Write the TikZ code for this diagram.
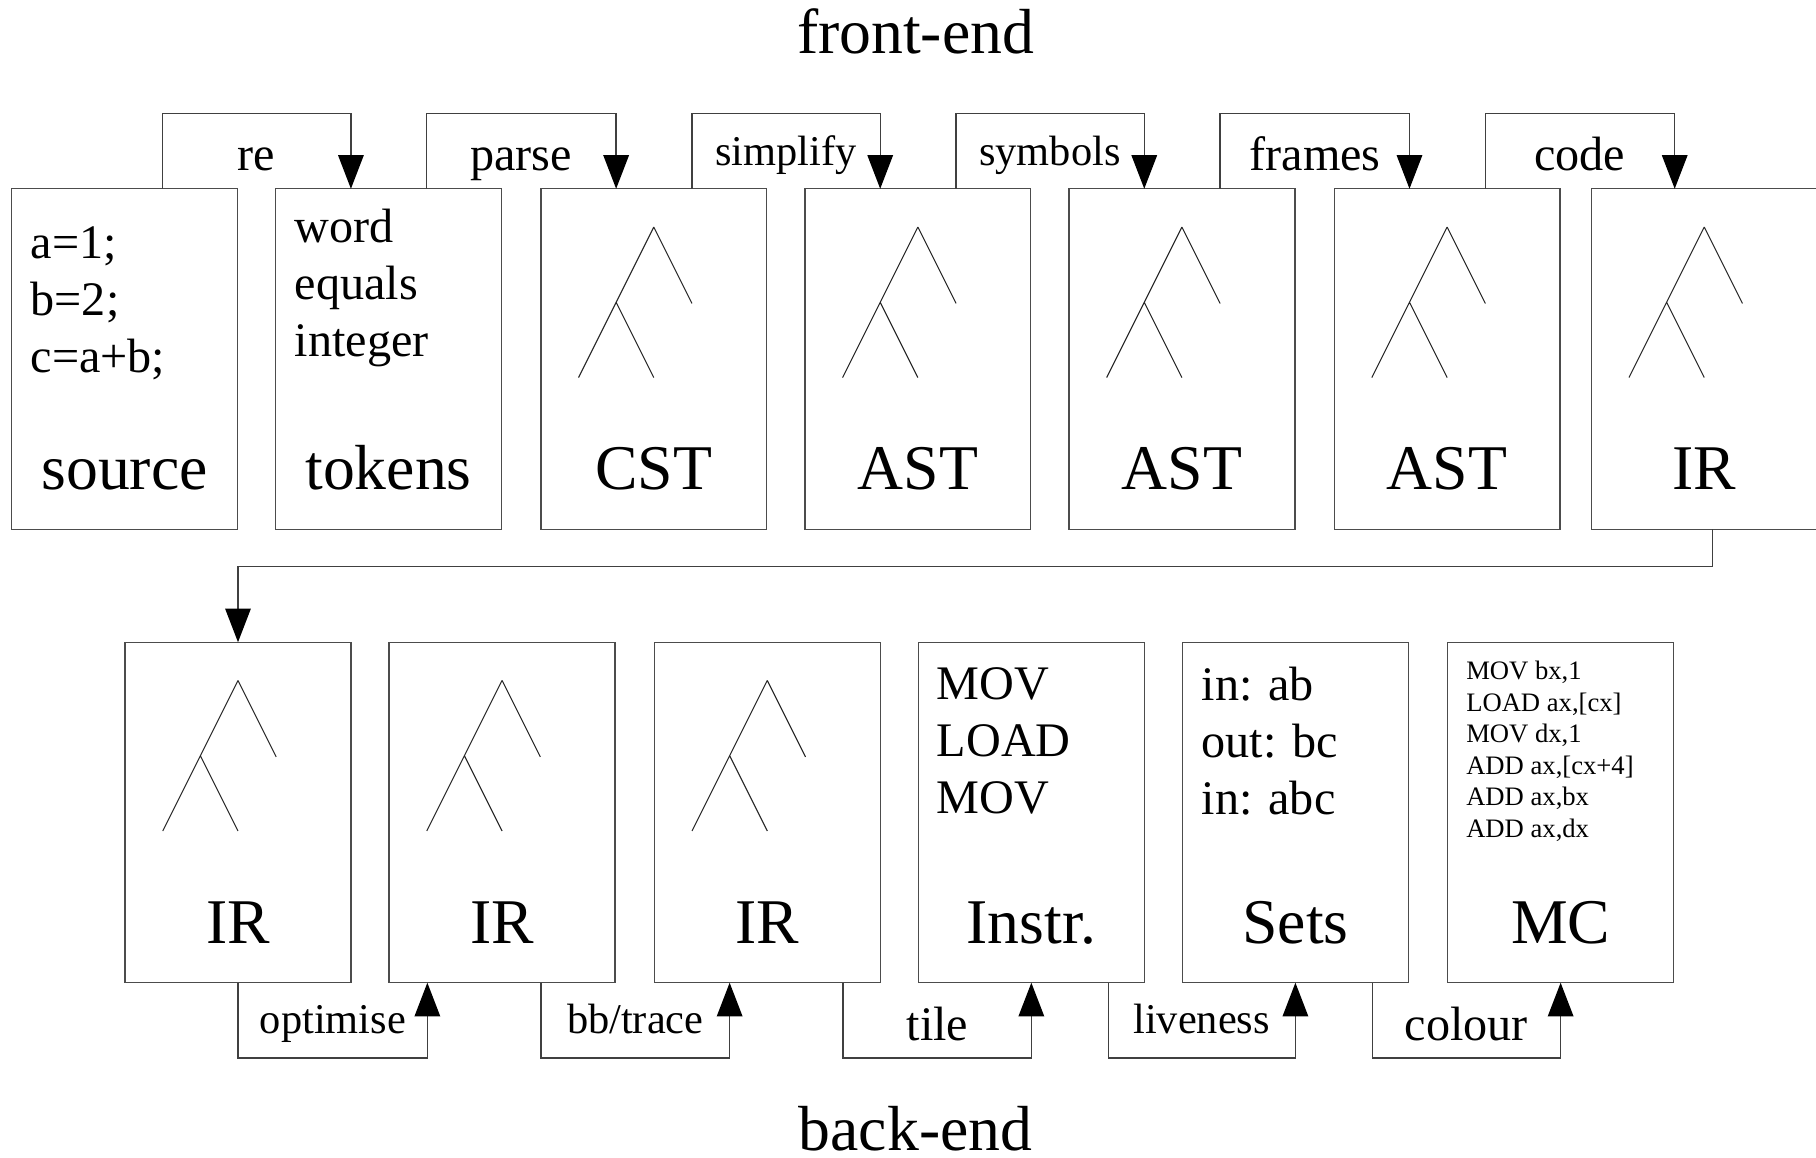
\documentclass[tikz,border=0pt]{standalone}
\usepackage{fontspec}
\setmainfont{Liberation Serif}
\usetikzlibrary{arrows.meta,calc}
\newcommand\fBig{\fontsize{27.5bp}{32bp}\selectfont}
\newcommand\fMid{\fontsize{20.8bp}{24bp}\selectfont}
\newcommand\fSml{\fontsize{18.3bp}{22bp}\selectfont}
\newcommand\fTiny{\fontsize{11.5bp}{13bp}\selectfont}
\begin{document}
\begin{tikzpicture}[x=0.5bp,y=-0.5bp,
 stagebox/.style={draw=black!70,line width=0.6bp,rectangle,minimum width=97.5bp,minimum height=147bp,inner sep=0pt,outer sep=0pt},
 treeline/.style={draw=black!85,line width=0.45bp},
 conn/.style={draw=black!75,line width=0.6bp,-{Triangle[length=14.5bp,width=11bp,color=black]}},
 txt/.style={inner sep=0pt,outer sep=0pt,anchor=base west},
 ctxt/.style={inner sep=0pt,outer sep=0pt,anchor=base},
 tree/.pic={\draw[treeline] (0,33)--(-65,163) (0,33)--(33,99) (-32.5,98)--(0,163);}
]
\useasboundingbox (0,0) rectangle (1568,999);
% titles
\node[ctxt,font=\fBig] (tfront) at (790.5,46) {front-end};
\node[ctxt,font=\fBig] (tback) at (790.5,993.5) {back-end};
% top row boxes
\node[stagebox] (src) at (107.5,310) {};
\node[stagebox] (tok) at (335.5,310) {};
\node[stagebox] (cst) at (564.5,310) {};
\node[stagebox] (astA) at (792.5,310) {};
\node[stagebox] (astB) at (1020.5,310) {};
\node[stagebox] (astC) at (1249.5,310) {};
\node[stagebox] (irA) at (1471.5,310) {};
% bottom row boxes
\node[stagebox] (irB) at (205.5,701.5) {};
\node[stagebox] (irC) at (433.5,701.5) {};
\node[stagebox] (irD) at (662.5,701.5) {};
\node[stagebox] (ins) at (890.5,701.5) {};
\node[stagebox] (sets) at (1118.5,701.5) {};
\node[stagebox] (mc) at (1347.5,701.5) {};
% trees
\pic at (cst.north) {tree};
\pic at (astA.north) {tree};
\pic at (astB.north) {tree};
\pic at (astC.north) {tree};
\pic at (irA.north) {tree};
\pic at (irB.north) {tree};
\pic at (irC.north) {tree};
\pic at (irD.north) {tree};
% big labels
\node[ctxt,font=\fBig] (lsrc) at (107.5,423) {source};
\node[ctxt,font=\fBig] (ltok) at (335.5,423) {tokens};
\node[ctxt,font=\fBig] (lcst) at (564.5,423) {CST};
\node[ctxt,font=\fBig] (lastA) at (792.5,423) {AST};
\node[ctxt,font=\fBig] (lastB) at (1020.5,423) {AST};
\node[ctxt,font=\fBig] (lastC) at (1249.5,423) {AST};
\node[ctxt,font=\fBig] (lirA) at (1471.5,423) {IR};
\node[ctxt,font=\fBig] (lirB) at (205.5,815) {IR};
\node[ctxt,font=\fBig] (lirC) at (433.5,815) {IR};
\node[ctxt,font=\fBig] (lirD) at (662.5,815) {IR};
\node[ctxt,font=\fBig] (lins) at (890.5,815) {Instr.};
\node[ctxt,font=\fBig] (lsets) at (1118.5,815) {Sets};
\node[ctxt,font=\fBig] (lmc) at (1347.5,815) {MC};
% box contents
\node[txt,font=\fMid] (s1) at (26.5,223) {a=1;};
\node[txt,font=\fMid] (s2) at (26.5,272.5) {b=2;};
\node[txt,font=\fMid] (s3) at (26.5,322) {c=a+b;};
\node[txt,font=\fMid] (k1) at (254.5,209) {word};
\node[txt,font=\fMid] (k2) at (254.5,258.5) {equals};
\node[txt,font=\fMid] (k3) at (254.5,308) {integer};
\node[txt,font=\fMid] (i1) at (809,604) {MOV};
\node[txt,font=\fMid] (i2) at (809,653) {LOAD};
\node[txt,font=\fMid] (i3) at (809,702) {MOV};
\node[txt,font=\fMid] (e1) at (1037.5,605) {in: ab};
\node[txt,font=\fMid] (e2) at (1037.5,654) {out: bc};
\node[txt,font=\fMid] (e3) at (1037.5,703) {in: abc};
\node[txt,font=\fTiny] (m1) at (1266,586.6) {MOV bx,1};
\node[txt,font=\fTiny] (m2) at (1266,613.9) {LOAD ax,[cx]};
\node[txt,font=\fTiny] (m3) at (1266,641.2) {MOV dx,1};
\node[txt,font=\fTiny] (m4) at (1266,668.5) {ADD ax,[cx+4]};
\node[txt,font=\fTiny] (m5) at (1266,695.8) {ADD ax,bx};
\node[txt,font=\fTiny] (m6) at (1266,723.1) {ADD ax,dx};
% top connectors
\draw[conn] ($(src.north west)+(130.5,0)$) -- ++(0,-65) -| ($(tok.north west)+(65,0)$);
\draw[conn] ($(tok.north west)+(130.5,0)$) -- ++(0,-65) -| ($(cst.north west)+(65,0)$);
\draw[conn] ($(cst.north west)+(130.5,0)$) -- ++(0,-65) -| ($(astA.north west)+(65,0)$);
\draw[conn] ($(astA.north west)+(130.5,0)$) -- ++(0,-65) -| ($(astB.north west)+(65,0)$);
\draw[conn] ($(astB.north west)+(130.5,0)$) -- ++(0,-65) -| ($(astC.north west)+(65,0)$);
\draw[conn] ($(astC.north west)+(130.5,0)$) -- ++(0,-65) -| ($(irA.north west)+(72,0)$);
% row change
\draw[conn] ($(irA.south)+(7,0)$) -- ++(0,32) -| (irB.north);
% bottom connectors
\draw[conn] (irB.south) -- ++(0,65) -| ($(irC.south west)+(33,0)$);
\draw[conn] ($(irC.south west)+(131,0)$) -- ++(0,65) -| ($(irD.south west)+(65,0)$);
\draw[conn] ($(irD.south west)+(163,0)$) -- ++(0,65) -| (ins.south);
\draw[conn] ($(ins.south west)+(164,0)$) -- ++(0,65) -| (sets.south);
\draw[conn] ($(sets.south west)+(164,0)$) -- ++(0,65) -| (mc.south);
% connector labels
\node[ctxt,font=\fMid] (cre) at (221.5,147) {re};
\node[ctxt,font=\fMid] (cparse) at (450,147) {parse};
\node[ctxt,font=\fSml] (csimp) at (678.5,143) {simplify};
\node[ctxt,font=\fSml] (csym) at (906.5,143) {symbols};
\node[ctxt,font=\fMid] (cfram) at (1135.5,147) {frames};
\node[ctxt,font=\fMid] (ccode) at (1364,147) {code};
\node[ctxt,font=\fSml] (copt) at (287.5,892) {optimise};
\node[ctxt,font=\fSml] (cbb) at (548.5,892) {bb/trace};
\node[ctxt,font=\fMid] (ctile) at (809.5,898) {tile};
\node[ctxt,font=\fSml] (cliv) at (1037.5,892) {liveness};
\node[ctxt,font=\fMid] (ccol) at (1266,898.5) {colour};
\end{tikzpicture}
\end{document}
